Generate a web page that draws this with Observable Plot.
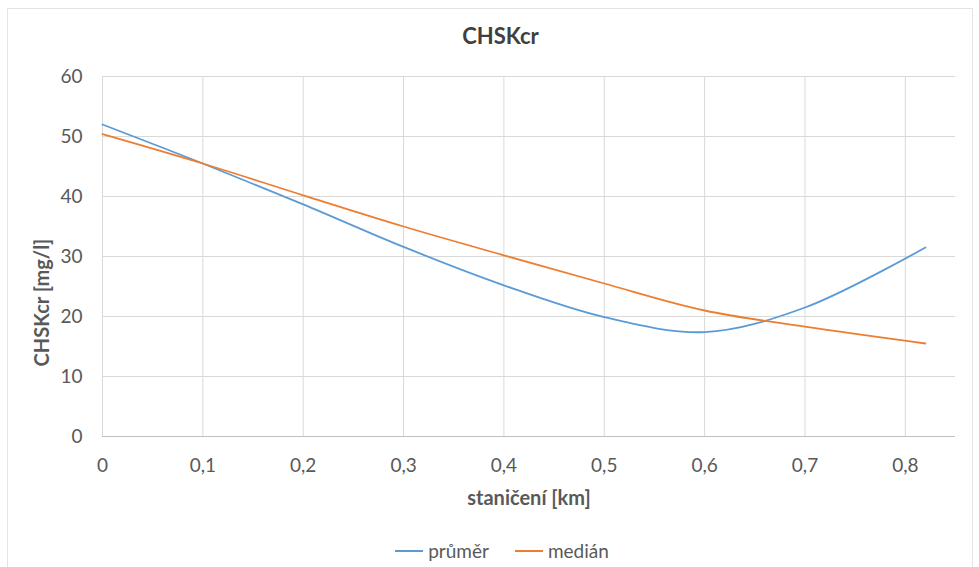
<!DOCTYPE html>
<html><head><meta charset="utf-8">
<script src="https://cdn.jsdelivr.net/npm/d3@7"></script>
<script src="https://cdn.jsdelivr.net/npm/@observablehq/plot@0.6"></script>
<style>
body{margin:0;background:#fff;font-family:Lato,"Open Sans",sans-serif;color:#595959;}
#wrap{position:relative;width:979px;height:567px;overflow:hidden;}
#frame{position:absolute;left:7px;top:8px;width:966px;height:570px;border:1px solid #e3e3e3;box-sizing:border-box;pointer-events:none;}
#title{height:37px;padding-top:23px;line-height:26px;text-align:center;font-weight:bold;font-size:22px;color:#404040;padding-left:22px;}
#legend{height:47px;padding-top:14px;box-sizing:border-box;line-height:22px;font-size:19px;display:flex;justify-content:center;gap:26px;padding-left:25px;}
.li{display:flex;align-items:center;gap:5px;}
.sw{display:inline-block;width:28px;height:2px;}
</style></head>
<body><div id="wrap"><div id="frame"></div>
<div id="title">CHSKcr</div>
<div id="chart"></div>
<div id="legend"></div>
</div>
<script>
const seriesNames = ["průměr", "medián"];
const seriesColors = ["#5B9BD5", "#ED7D31"];
const stationsPrumer = [0, 0.1, 0.2, 0.3, 0.4, 0.5, 0.6, 0.7, 0.82];
const valuesPrumer = [52, 45.5, 38.7, 31.6, 25.2, 19.9, 17.4, 21.5, 31.5];
const stationsMedian = [0, 0.1, 0.2, 0.3, 0.4, 0.5, 0.6, 0.7, 0.82];
const valuesMedian = [50.4, 45.5, 40.2, 35, 30.2, 25.5, 21, 18.3, 15.5];
const xTicks = [0, 0.1, 0.2, 0.3, 0.4, 0.5, 0.6, 0.7, 0.8];
const yTicks = [0, 10, 20, 30, 40, 50, 60];
const xLabel = "staničení [km]";
const yLabel = "CHSKcr [mg/l]";

const data = [
  ...stationsPrumer.map((x, i) => ({x, y: valuesPrumer[i], s: seriesNames[0]})),
  ...stationsMedian.map((x, i) => ({x, y: valuesMedian[i], s: seriesNames[1]}))
];
const fmt = d => d === 0 ? "0" : d.toFixed(1).replace(".", ",");

const chart = Plot.plot({
  width: 979, height: 460,
  marginTop: 16, marginBottom: 84, marginLeft: 102, marginRight: 24,
  style: {fontFamily: "Lato, 'Open Sans', sans-serif", fontSize: "19px", color: "#595959", background: "transparent"},
  x: {domain: [0, 0.85], ticks: xTicks, tickFormat: fmt, label: null},
  y: {domain: [0, 60], ticks: yTicks, label: null},
  color: {domain: seriesNames, range: seriesColors},
  marks: [
    Plot.gridX(xTicks, {stroke: "#d9d9d9", strokeOpacity: 1}),
    Plot.gridY(yTicks, {stroke: "#d9d9d9", strokeOpacity: 1}),
    Plot.ruleY([0], {stroke: "#bfbfbf"}),
    Plot.axisX({ticks: xTicks, tickFormat: fmt, tickSize: 0, tickPadding: 22, label: null, fontSize: 19}),
    Plot.axisY({ticks: yTicks, tickSize: 0, tickPadding: 20, label: null, fontSize: 19}),
    Plot.line(data, {x: "x", y: "y", z: "s", stroke: "s", strokeWidth: 1.8, curve: "catmull-rom"}),
    Plot.text([yLabel], {frameAnchor: "left", textAnchor: "middle", lineAnchor: "middle", dx: -60, dy: 46, rotate: -90, fontWeight: "bold", fontSize: 20, fill: "#595959"}),
    Plot.text([xLabel], {frameAnchor: "bottom", textAnchor: "middle", lineAnchor: "middle", dx: 0, dy: 62, fontWeight: "bold", fontSize: 20, fill: "#595959"})
  ]
});
document.getElementById("chart").appendChild(chart);

const leg = document.getElementById("legend");
seriesNames.forEach((n, i) => {
  const d = document.createElement("div");
  d.className = "li";
  d.innerHTML = `<span class="sw" style="background:${seriesColors[i]}"></span><span>${n}</span>`;
  leg.appendChild(d);
});
</script>
</body></html>
